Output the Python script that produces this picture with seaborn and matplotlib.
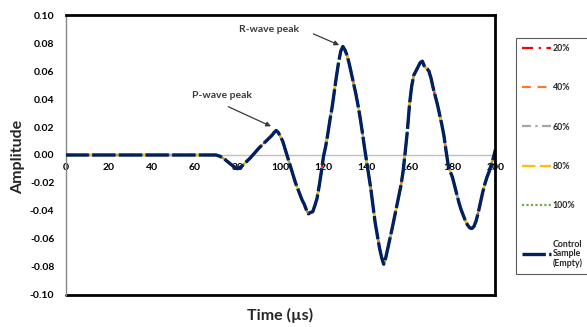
import numpy as np
import pandas as pd
import matplotlib
matplotlib.use("Agg")
import matplotlib.pyplot as plt
import seaborn as sns

# ---- data ----
time_us = [0, 10, 20, 30, 40, 50, 60, 70, 72, 74, 76, 78, 80, 82, 84, 86, 88, 90, 92, 94, 96, 97,
           98, 99, 100, 101, 102, 103, 104, 105, 106, 107, 108, 109, 110, 111, 112, 113, 114, 115,
           116, 117, 118, 119, 120, 121, 122, 123, 124, 125, 126, 127, 128, 129, 130, 131, 132,
           133, 134, 135, 136, 137, 138, 139, 140, 142, 144, 146, 147, 148, 149, 150, 152, 154,
           156, 157, 158, 159, 160, 161, 162, 163, 164, 165, 166, 167, 168, 169, 170, 171, 172,
           173, 174, 175, 176, 177, 178, 179, 180, 181, 182, 183, 184, 185, 186, 187, 188, 189,
           190, 191, 192, 193, 194, 195, 196, 197, 198, 199, 200]
amplitude = [0, 0, 0, 0, 0, 0, 0, 0, -0.001, -0.003, -0.0055, -0.008, -0.0098, -0.008, -0.005,
             -0.002, 0.0015, 0.005, 0.008, 0.011, 0.014, 0.016,
             0.0175, 0.016, 0.013, 0.010, 0.005, 0.000, -0.005, -0.010, -0.015, -0.020, -0.024,
             -0.028, -0.032, -0.035, -0.039, -0.042, -0.041, -0.0405,
             -0.036, -0.031, -0.022, -0.012, -0.001, 0.006, 0.015, 0.025, 0.034, 0.045, 0.056,
             0.066, 0.074, 0.0775, 0.075, 0.071, 0.065,
             0.058, 0.051, 0.044, 0.036, 0.027, 0.017, 0.006, -0.004, -0.024, -0.048, -0.066,
             -0.073, -0.078, -0.073, -0.066, -0.052, -0.037,
             -0.022, -0.012, 0.002, 0.017, 0.036, 0.049, 0.057, 0.060, 0.063, 0.066, 0.067,
             0.063, 0.062, 0.060, 0.055, 0.048, 0.042,
             0.036, 0.029, 0.022, 0.014, 0.003, -0.007, -0.012, -0.016, -0.022, -0.028, -0.034,
             -0.039, -0.043, -0.047, -0.050, -0.052, -0.0525,
             -0.051, -0.047, -0.041, -0.034, -0.027, -0.021, -0.016, -0.012, -0.007, -0.002, 0.004]

series_names = ["20%", "40%", "60%", "80%", "100%", "Control\nSample\n(Empty)"]
series_values = {
    "20%": amplitude,
    "40%": amplitude,
    "60%": amplitude,
    "80%": amplitude,
    "100%": amplitude,
    "Control\nSample\n(Empty)": amplitude,
}
x_ticks = [0, 20, 40, 60, 80, 100, 120, 140, 160, 180, 200]
y_ticks = [-0.10, -0.08, -0.06, -0.04, -0.02, 0.00, 0.02, 0.04, 0.06, 0.08, 0.10]

colors = {"20%": "#FF0000", "40%": "#ED7D31", "60%": "#A5A5A5", "80%": "#FFC000",
          "100%": "#70AD47", "Control\nSample\n(Empty)": "#002060"}
dashes = {"20%": (5, 2.5, 1, 2.5), "40%": (4, 3), "60%": (4, 2, 1, 2), "80%": (6, 2),
          "100%": (1, 1), "Control\nSample\n(Empty)": (7, 1)}

df = pd.concat([pd.DataFrame({"Time": time_us, "Amplitude": series_values[s], "Series": s})
                for s in series_names], ignore_index=True)

sns.set_theme(style="white")
plt.rcParams["font.family"] = ["Lato", "DejaVu Sans"]
plt.rcParams["font.weight"] = "bold"

fig = plt.figure(figsize=(5.87, 3.27), dpi=100)
ax = fig.add_axes([0.1116, 0.0979, 0.7325, 0.8562])

sns.lineplot(data=df, x="Time", y="Amplitude", hue="Series", style="Series",
             hue_order=series_names, style_order=series_names,
             palette=colors, dashes=dashes, ax=ax, legend="full", sort=False)

for line in ax.get_lines():
    line.set_linewidth(1.6)
    line.set_zorder(3)
ax.get_lines()[5].set_linewidth(2.4)

ax.set_xlim(0, 200)
ax.set_ylim(-0.10, 0.10)
ax.set_xticks(x_ticks)
ax.set_yticks(y_ticks)
ax.set_yticklabels([f"{v:.2f}" for v in y_ticks])
ax.tick_params(axis="both", labelsize=7.5, colors="#888888", labelcolor="black",
               length=3, width=0.8, direction="out")
ax.tick_params(axis="x", pad=3)
ax.tick_params(axis="y", pad=5)
for lab in ax.get_xticklabels() + ax.get_yticklabels():
    lab.set_fontweight("bold")

ax.spines["bottom"].set_position(("data", 0))
ax.spines["bottom"].set_color("#BFBFBF")
ax.spines["bottom"].set_linewidth(1)
ax.spines["bottom"].set_zorder(1)
ax.spines["left"].set_color("#888888")
ax.spines["left"].set_linewidth(1)
for s in ["top", "right"]:
    ax.spines[s].set_color("black")
    ax.spines[s].set_linewidth(2)
    ax.spines[s].set_zorder(4)
ax.plot([0, 1], [0, 0], transform=ax.transAxes, color="black", lw=2, clip_on=False)

ax.set_xlabel("")
ax.set_ylabel("")
fig.text(0.030, 0.52, "Amplitude", rotation=90, ha="center", va="center",
         fontsize=11.5, fontweight="bold")
fig.text(0.477, 0.035, "Time (µs)", ha="center", va="center",
         fontsize=11.5, fontweight="bold")

ann_color = "#3A3A3A"
ax.text(94.7, 0.090, "R-wave peak", fontsize=7.5, ha="center", va="center", color=ann_color)
ax.annotate("", xy=(127.3, 0.0785), xytext=(115.3, 0.0865),
            arrowprops=dict(arrowstyle="-|>", color=ann_color, lw=0.9,
                            mutation_scale=7, shrinkA=0, shrinkB=0))
ax.text(72.8, 0.0423, "P-wave peak", fontsize=7.5, ha="center", va="center", color=ann_color)
ax.annotate("", xy=(95.6, 0.0205), xytext=(75.7, 0.0345),
            arrowprops=dict(arrowstyle="-|>", color=ann_color, lw=0.9,
                            mutation_scale=7, shrinkA=0, shrinkB=0))

handles, labels = ax.get_legend_handles_labels()
ax.legend_.remove()
for h in handles:
    h.set_linewidth(1.6)
handles[-1].set_linewidth(2.4)
leg = fig.legend(handles, labels, loc="upper left",
                 bbox_to_anchor=(516 / 587, 1 - 38 / 327),
                 frameon=True, fontsize=6.3, handlelength=3.3, handletextpad=0.2,
                 labelspacing=3.45, borderpad=0.7, borderaxespad=0)
leg.get_frame().set_edgecolor("#333333")
leg.get_frame().set_linewidth(0.8)
leg.get_frame().set_boxstyle("square", pad=0)
for t in leg.get_texts():
    t.set_fontweight("bold")
    t.set_linespacing(1.0)

fig.savefig("out.png", dpi=100)
